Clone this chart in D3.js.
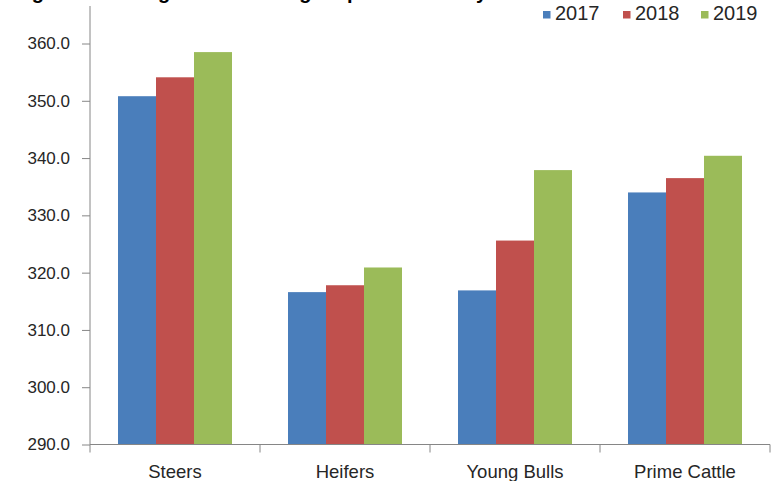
<!DOCTYPE html>
<html>
<head>
<meta charset="utf-8">
<script src="https://cdn.jsdelivr.net/npm/d3@7"></script>
<style>
  body { margin: 0; background: #fff; }
  svg { display: block; }
  text { font-family: "Liberation Sans", Arial, sans-serif; fill: #262626; }
</style>
</head>
<body>
<svg id="chart" width="776" height="481"></svg>
<script>
// chart data
var categories = ['Steers', 'Heifers', 'Young Bulls', 'Prime Cattle'];
var years = ['2017', '2018', '2019'];
var v2017 = [350.8, 316.6, 316.9, 334.0];
var v2018 = [354.1, 317.8, 325.6, 336.5];
var v2019 = [358.5, 320.9, 337.9, 340.4];
var yTicks = [290, 300, 310, 320, 330, 340, 350, 360];
var colors = ['#4a7ebb', '#c0504d', '#9bbb59'];

var series = [v2017, v2018, v2019];

var svg = d3.select('#chart');

// title sits mostly above the top edge, only descenders show
svg.append('text')
	.attr('x', 14).attr('y', -1)
	.style('font-size', '20px').style('font-weight', 'bold')
	.style('fill', '#000')
	.text('Figure 3: Average carcase weights per carcase by class');

var left = 90, right = 770, bottom = 444.5;

var x = d3.scaleBand().domain(categories).range([left, right]);
var x1 = d3.scaleBand().domain(years).range([28, 142]);
var y = d3.scaleLinear().domain([290, 360]).range([bottom, 43.5]);

// bars
var groups = svg.selectAll('.cat')
	.data(categories)
	.enter().append('g')
	.attr('class', 'cat')
	.attr('transform', function(d){ return 'translate(' + x(d) + ',0)'; });

groups.selectAll('rect')
	.data(function(d, i){
		return years.map(function(yr, j){ return {year: yr, value: series[j][i], k: j}; });
	})
	.enter().append('rect')
	.attr('x', function(d){ return x1(d.year); })
	.attr('width', x1.bandwidth())
	.attr('y', function(d){ return y(d.value); })
	.attr('height', function(d){ return bottom - y(d.value); })
	.style('fill', function(d){ return colors[d.k]; });

// y axis
var yAxis = svg.append('g')
	.attr('transform', 'translate(' + left + ',0)')
	.call(d3.axisLeft(y).tickValues(yTicks).tickSize(8).tickPadding(12)
		.tickFormat(function(d){ return d3.format('.1f')(d); }));
yAxis.select('.domain').remove();
yAxis.selectAll('line').attr('stroke', '#868686');
yAxis.selectAll('text').style('font-size', '17px').style('fill', '#262626');
yAxis.append('line')
	.attr('x1', 0).attr('x2', 0)
	.attr('y1', 6).attr('y2', bottom)
	.attr('stroke', '#868686');

// x axis
var xAxis = svg.append('g');
xAxis.append('line')
	.attr('x1', left).attr('x2', right)
	.attr('y1', bottom).attr('y2', bottom)
	.attr('stroke', '#868686');
xAxis.selectAll('.xt')
	.data(categories.concat(['end']))
	.enter().append('line')
	.attr('class', 'xt')
	.attr('x1', function(d){ return d == 'end' ? right : x(d); })
	.attr('x2', function(d){ return d == 'end' ? right : x(d); })
	.attr('y1', bottom).attr('y2', bottom + 8)
	.attr('stroke', '#868686');
xAxis.selectAll('.xl')
	.data(categories)
	.enter().append('text')
	.attr('class', 'xl')
	.attr('x', function(d){ return x(d) + x.bandwidth() / 2; })
	.attr('y', 477.5)
	.attr('text-anchor', 'middle')
	.style('font-size', '18.5px')
	.text(function(d){ return d; });

// legend
var legX = [543, 623, 701];
var legend = svg.selectAll('.leg')
	.data(years)
	.enter().append('g')
	.attr('class', 'leg')
	.attr('transform', function(d, i){ return 'translate(' + legX[i] + ',0)'; });
legend.append('rect')
	.attr('x', 0).attr('y', 11)
	.attr('width', 7.5).attr('height', 7.5)
	.style('fill', function(d, i){ return colors[i]; });
legend.append('text')
	.attr('x', 12).attr('y', 20)
	.style('font-size', '20px')
	.text(function(d){ return d; });
</script>
</body>
</html>
